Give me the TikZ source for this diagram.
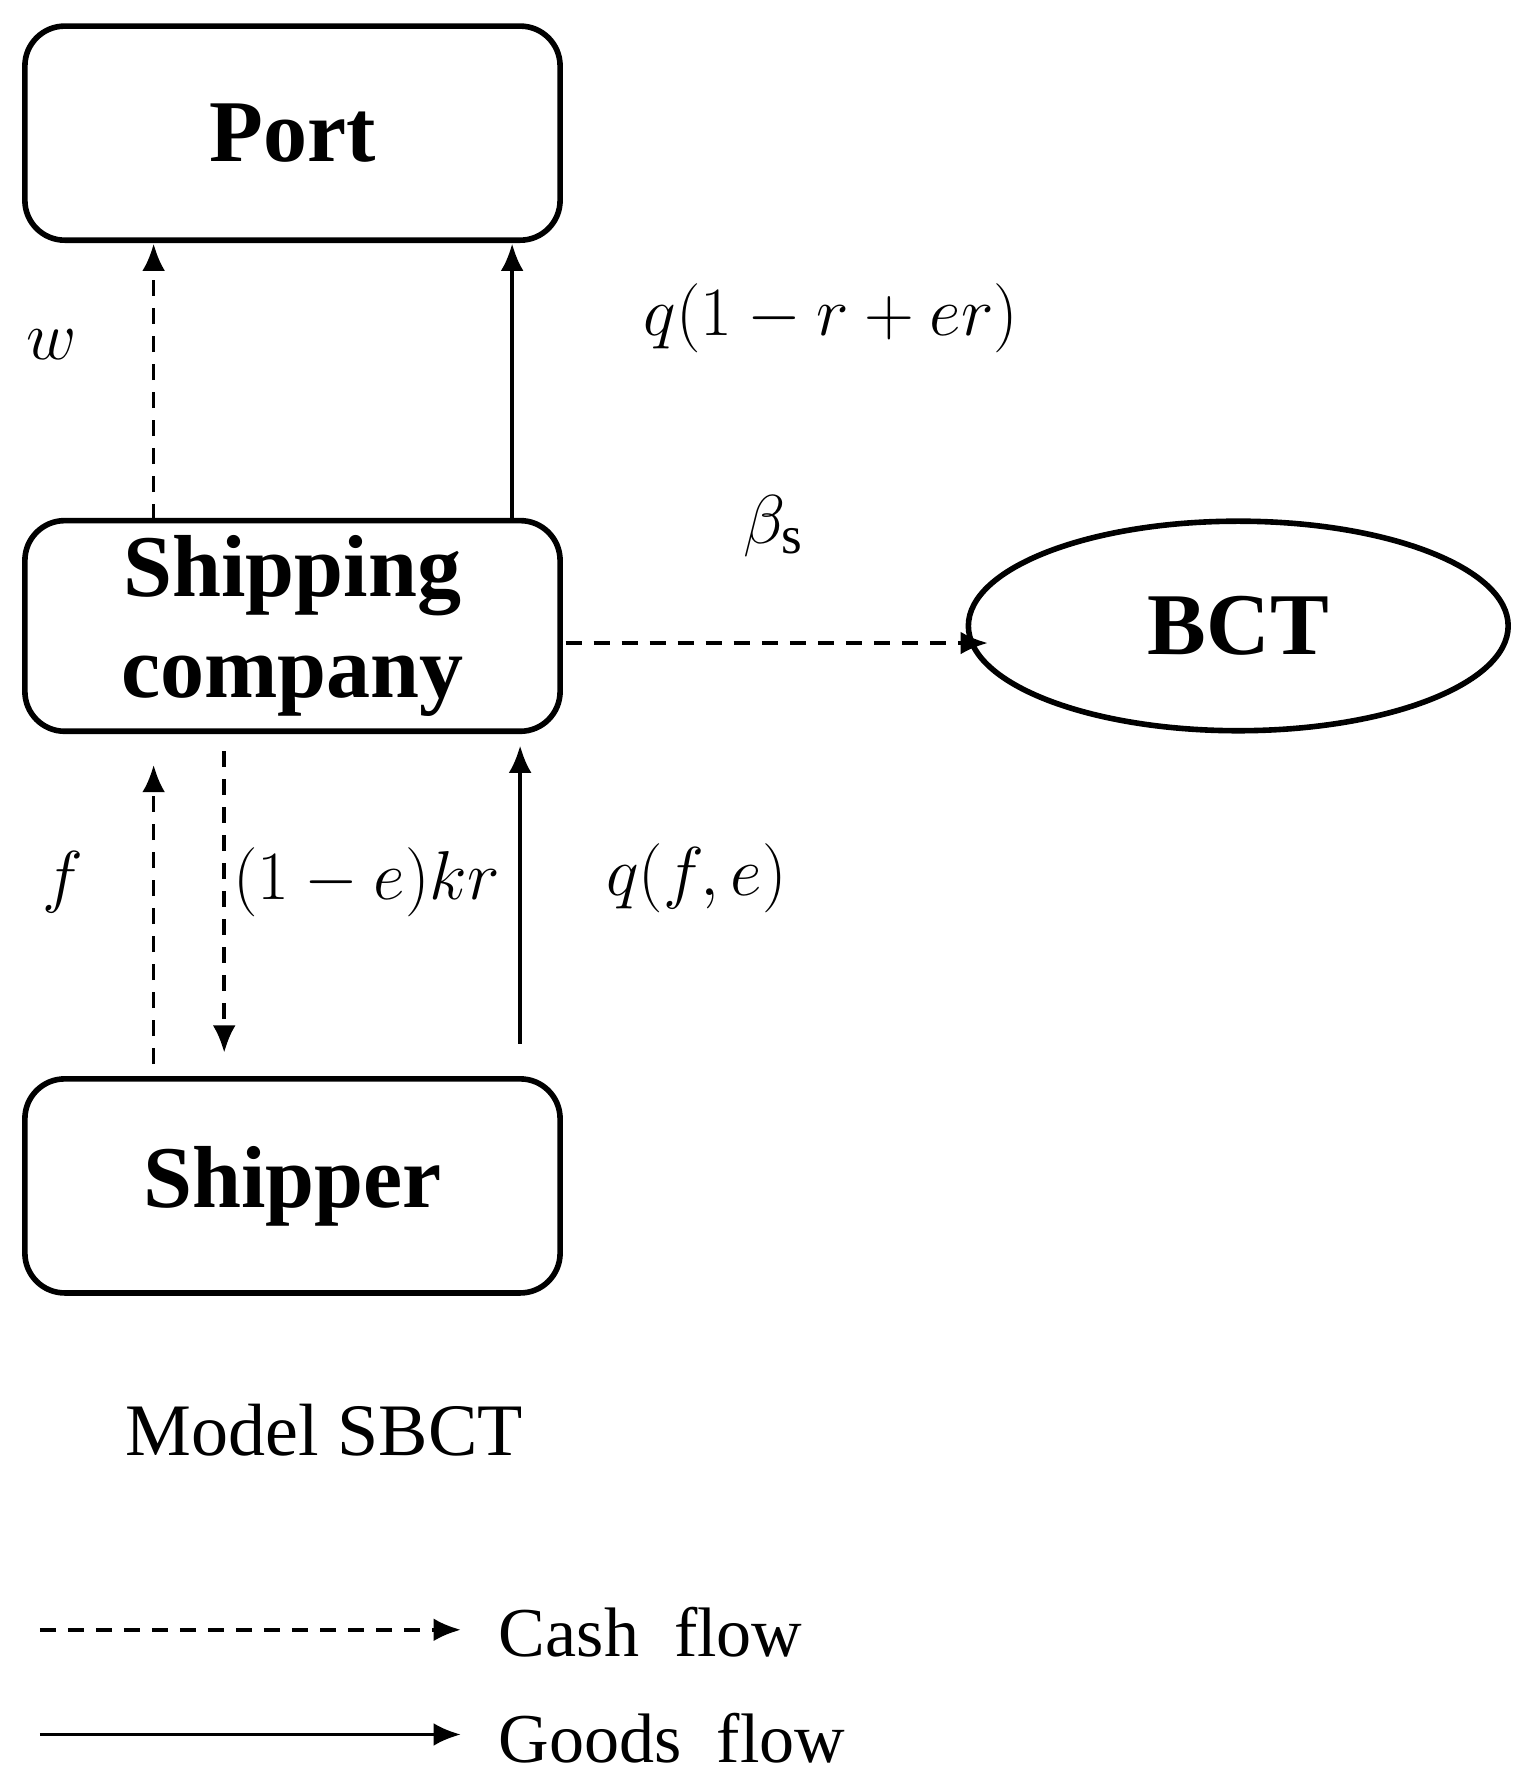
\documentclass[tikz,border=0pt]{standalone}
\usepackage{fontspec}
\setmainfont{Liberation Serif}
\usetikzlibrary{arrows.meta,shapes.geometric}
\begin{document}
\begin{tikzpicture}[x=0.01cm,y=-0.01cm,
  box/.style={draw,line width=1.4pt,rounded corners=0.35cm,minimum width=4.7cm,minimum height=1.88cm,font=\fontsize{22}{25}\selectfont\bfseries,align=center},
  arr/.style={line width=0.9pt,-{Latex[length=0.24cm,width=0.2cm]}},
  cash/.style={arr,dash pattern=on 4pt off 3pt},
  lbl/.style={font=\fontsize{19}{21}\selectfont}]
\useasboundingbox (0,0) rectangle (1340,1564);
\node[box] (port) at (257,117) {Port};
\node[box,minimum height=1.85cm] (ship) at (257,550) {Shipping\\company};
\node[box] (shipper) at (257,1042) {Shipper};
\node[draw,line width=1.4pt,ellipse,minimum width=4.74cm,minimum height=1.84cm,font=\fontsize{22}{25}\selectfont\bfseries] (bct) at (1088,550) {BCT};
\coordinate (a1) at (135,457); \coordinate (a2) at (135,214);
\coordinate (b1) at (450,457); \coordinate (b2) at (450,214);
\coordinate (c1) at (497,565); \coordinate (c2) at (868,565);
\coordinate (d1) at (135,935); \coordinate (d2) at (135,672);
\coordinate (e1) at (197,660); \coordinate (e2) at (197,925);
\coordinate (g1) at (457,917); \coordinate (g2) at (457,655);
\draw[cash] (a1) -- (a2);
\draw[arr] (b1) -- (b2);
\draw[cash] (c1) -- (c2);
\draw[cash] (d1) -- (d2);
\draw[cash] (e1) -- (e2);
\draw[arr] (g1) -- (g2);
\node[lbl] (lw) at (45,303) {$w$};
\node[lbl] (lq) at (730,280) {$q(1-r+er)$};
\node[lbl] (lb) at (680,462) {$\beta_{\mathrm{s}}$};
\node[lbl] (lf) at (55,775) {$f$};
\node[lbl] (lk) at (322,775) {$(1-e)kr$};
\node[lbl] (lqf) at (612,772) {$q(f,e)$};
\node[font=\fontsize{18.5}{21}\selectfont] (model) at (285,1257) {Model SBCT};
\coordinate (l1) at (35,1432); \coordinate (l2) at (405,1432);
\coordinate (m1) at (35,1524); \coordinate (m2) at (405,1524);
\draw[cash] (l1) -- (l2);
\draw[arr] (m1) -- (m2);
\node[font=\fontsize{17.5}{20}\selectfont,anchor=west] (cf) at (426,1434) {Cash\ \ flow};
\node[font=\fontsize{17.5}{20}\selectfont,anchor=west] (gf) at (426,1527) {Goods\ \ flow};
\end{tikzpicture}
\end{document}
